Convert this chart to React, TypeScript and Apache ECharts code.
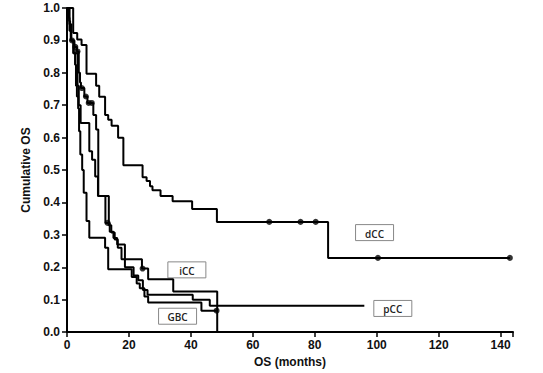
import React, { useEffect, useRef } from "react";
import * as echarts from "echarts";

// ---- Data ----
const dccTimes = [0, 2.0, 3.3, 4.7, 6.3, 9.4, 10.4, 12.3, 13.3, 14.4, 16.5, 18.2, 24.4, 25.7, 26.8, 27.6, 30.2, 34.1, 40.4, 48.4, 84.3, 143];
const dccSurv = [1.0, 0.923, 0.903, 0.886, 0.797, 0.76, 0.726, 0.67, 0.655, 0.637, 0.6, 0.515, 0.478, 0.466, 0.45, 0.438, 0.42, 0.404, 0.38, 0.34, 0.229, 0.229];
const dccCensor = [[65.3, 0.34], [75.4, 0.34], [80.3, 0.34], [100.4, 0.229], [143, 0.229]];

const iccTimes = [0, 0.8, 1.4, 2.0, 3.4, 3.8, 4.4, 7.2, 8.1, 9.1, 10.0, 13.5, 14.3, 15.4, 16.4, 17.6, 24.2, 26.2, 34.3, 48.5];
const iccSurv = [1.0, 0.95, 0.9, 0.86, 0.76, 0.7, 0.645, 0.558, 0.532, 0.48, 0.42, 0.33, 0.307, 0.286, 0.26, 0.225, 0.196, 0.163, 0.125, 0];
const iccCensor = [[24.4, 0.196]];

const pccTimes = [0, 0.7, 1.0, 1.3, 2.4, 3.2, 3.8, 4.2, 4.5, 5.6, 6.6, 8.5, 9.4, 10.1, 12.4, 13.8, 15.0, 16.2, 18.7, 21.5, 23.0, 24.5, 26.0, 40.6, 46.1, 96];
const pccSurv = [1.0, 0.96, 0.93, 0.9, 0.88, 0.866, 0.8, 0.77, 0.753, 0.727, 0.707, 0.67, 0.625, 0.42, 0.337, 0.31, 0.29, 0.27, 0.2, 0.175, 0.16, 0.13, 0.115, 0.1, 0.081, 0.081];
const pccCensor = [[1.6, 0.9], [2.7, 0.88], [3.4, 0.866], [4.8, 0.753], [6.1, 0.727], [7.0, 0.707], [8.0, 0.707], [13.1, 0.337]];

const gbcTimes = [0, 0.5, 0.8, 1.2, 2.2, 2.6, 2.9, 3.2, 3.6, 3.9, 4.3, 4.9, 5.4, 6.3, 7.2, 12.3, 13.3, 20.9, 22.5, 23.5, 25.0, 26.2, 43.4, 48.3];
const gbcSurv = [1.0, 0.97, 0.93, 0.9, 0.86, 0.825, 0.76, 0.727, 0.69, 0.62, 0.548, 0.5, 0.43, 0.343, 0.291, 0.26, 0.194, 0.17, 0.15, 0.135, 0.11, 0.091, 0.066, 0.066];
const gbcCensor = [[48.3, 0.066]];

const xTicks = [0, 20, 40, 60, 80, 100, 120, 140];

// label boxes: [name, centre month, centre survival]
const boxNames = ["dCC", "pCC", "iCC", "GBC"];
const boxX = [99.3, 105.2, 38.7, 35.7];
const boxY = [0.307, 0.073, 0.192, 0.049];

const pairs = (t: number[], s: number[]) => t.map((x, i) => [x, s[i]]);

const lineSeries = (name: string, t: number[], s: number[]) => ({
  name,
  type: "line",
  step: "end",
  data: pairs(t, s),
  showSymbol: false,
  symbol: "none",
  lineStyle: { color: "#000", width: 2 },
  z: 3,
});
const censorSeries = (name: string, d: number[][]) => ({
  name: name + " censored",
  type: "scatter",
  data: d,
  symbol: "circle",
  symbolSize: 6,
  itemStyle: { color: "#000" },
  z: 4,
});

export default function App() {
  const ref = useRef<HTMLDivElement>(null);
  useEffect(() => {
    if (!ref.current) return;
    const chart = echarts.init(ref.current, null, { renderer: "svg" });
    const font = "Arial";
    chart.setOption({
      animation: false,
      grid: { left: 67, right: 30, top: 8, bottom: 40 },
      xAxis: {
        type: "value",
        min: 0,
        max: 144,
        interval: 20,
        axisLine: { show: true, lineStyle: { color: "#000", width: 2 } },
        axisTick: { show: true, length: 5, lineStyle: { color: "#000", width: 1.5 } },
        splitLine: { show: false },
        axisLabel: {
          color: "#111",
          fontWeight: "bold",
          fontSize: 12,
          fontFamily: font,
          margin: 7,
          formatter: (v: number) => (xTicks.includes(v) ? String(v) : ""),
        },
        name: "OS (months)",
        nameLocation: "middle",
        nameGap: 22,
        nameTextStyle: { color: "#111", fontWeight: "bold", fontSize: 12, fontFamily: font },
      },
      yAxis: {
        type: "value",
        min: 0,
        max: 1,
        interval: 0.1,
        axisLine: { show: true, lineStyle: { color: "#000", width: 2 } },
        axisTick: { show: true, length: 5, lineStyle: { color: "#000", width: 1.5 } },
        splitLine: { show: false },
        axisLabel: {
          color: "#111",
          fontWeight: "bold",
          fontSize: 12,
          fontFamily: font,
          margin: 7,
          formatter: (v: number) => v.toFixed(1),
        },
        name: "Cumulative OS",
        nameLocation: "middle",
        nameGap: 33,
        nameRotate: 90,
        nameTextStyle: { color: "#111", fontWeight: "bold", fontSize: 12, fontFamily: font },
      },
      series: [
        lineSeries("dCC", dccTimes, dccSurv),
        lineSeries("iCC", iccTimes, iccSurv),
        lineSeries("pCC", pccTimes, pccSurv),
        lineSeries("GBC", gbcTimes, gbcSurv),
        censorSeries("dCC", dccCensor),
        censorSeries("iCC", iccCensor),
        censorSeries("pCC", pccCensor),
        censorSeries("GBC", gbcCensor),
      ],
    });
    const graphics = boxNames.map((n, i) => {
      const p = chart.convertToPixel({ gridIndex: 0 }, [boxX[i], boxY[i]]) as number[];
      const w = 38;
      const h = 16;
      return {
        type: "group",
        x: p[0] - w / 2,
        y: p[1] - h / 2,
        z: 10,
        children: [
          { type: "rect", shape: { x: 0, y: 0, width: w, height: h }, style: { fill: "#fff", stroke: "#888", lineWidth: 1 } },
          {
            type: "text",
            x: w / 2,
            y: h / 2 + 1,
            style: { text: n, fill: "#222", font: "600 10px 'Open Sans', sans-serif", align: "center", verticalAlign: "middle" },
          },
        ],
      };
    });
    chart.setOption({ graphic: graphics });
    return () => chart.dispose();
  }, []);
  return <div ref={ref} style={{ width: 543, height: 373, position: "absolute", left: 0, top: 0, background: "#fff" }} />;
}
